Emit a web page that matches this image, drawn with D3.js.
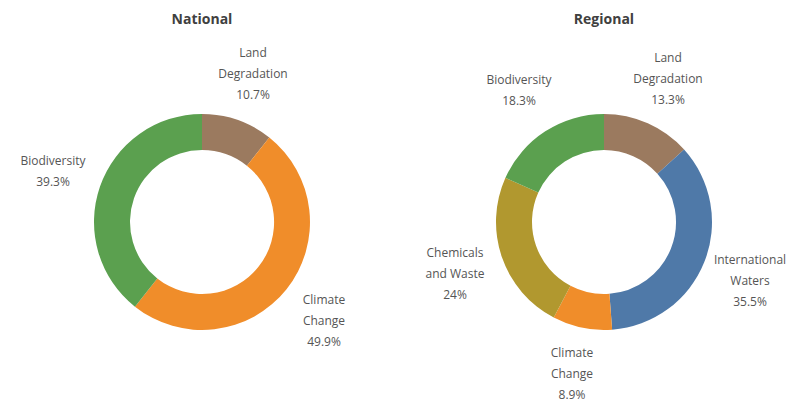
<!DOCTYPE html>
<html><head><meta charset="utf-8">
<script src="https://cdn.jsdelivr.net/npm/d3@7"></script>
<style>
html,body{margin:0;padding:0;background:#fff;}
text{font-family:"Open Sans","Noto Sans",sans-serif;}
</style></head>
<body><svg id="c" width="792" height="402"></svg>
<script>
const nationalCategories = ["Land Degradation", "Climate Change", "Biodiversity"];
const nationalValues = [10.7, 49.9, 39.3];
const nationalLabels = [["Land", "Degradation", "10.7%"], ["Climate", "Change", "49.9%"], ["Biodiversity", "39.3%"]];

const regionalCategories = ["Land Degradation", "International Waters", "Climate Change", "Chemicals and Waste", "Biodiversity"];
const regionalValues = [13.3, 35.5, 8.9, 24, 18.3];
const regionalLabels = [["Land", "Degradation", "13.3%"], ["International", "Waters", "35.5%"], ["Climate", "Change", "8.9%"], ["Chemicals", "and Waste", "24%"], ["Biodiversity", "18.3%"]];

const colorMap = {
  "Land Degradation": "#9b7a5f",
  "Climate Change": "#f08d2a",
  "Biodiversity": "#5ba04f",
  "International Waters": "#4f79a8",
  "Chemicals and Waste": "#b1982f"
};

const svg = d3.select("#c");

function donut(cx, cy, title, cats, vals, labels, labelPos) {
  const g = svg.append("g").attr("transform", `translate(${cx},${cy})`);
  const pie = d3.pie().sort(null).value(d => d.v);
  const data = pie(cats.map((c, i) => ({c, v: vals[i], l: labels[i]})));
  const arc = d3.arc().innerRadius(72).outerRadius(108);
  g.selectAll("path").data(data).join("path")
    .attr("d", arc).attr("fill", d => colorMap[d.data.c]);
  svg.append("text").attr("x", cx).attr("y", 24).attr("text-anchor", "middle")
    .attr("font-size", 14).attr("font-weight", "bold").attr("fill", "#404040").text(title);
  data.forEach((d, i) => {
    const [lx, ly] = labelPos[i];
    const t = svg.append("text").attr("text-anchor", "middle").attr("font-size", 12).attr("fill", "#555555");
    d.data.l.forEach((line, j) => {
      t.append("tspan").attr("x", lx).attr("y", ly + j * 21).text(line);
    });
  });
}

donut(202, 222, "National", nationalCategories, nationalValues, nationalLabels,
  [[253, 57], [324, 304], [53, 165]]);
donut(604, 222, "Regional", regionalCategories, regionalValues, regionalLabels,
  [[668, 62], [750, 264], [572, 357], [455, 257], [519, 84]]);
</script></body></html>
